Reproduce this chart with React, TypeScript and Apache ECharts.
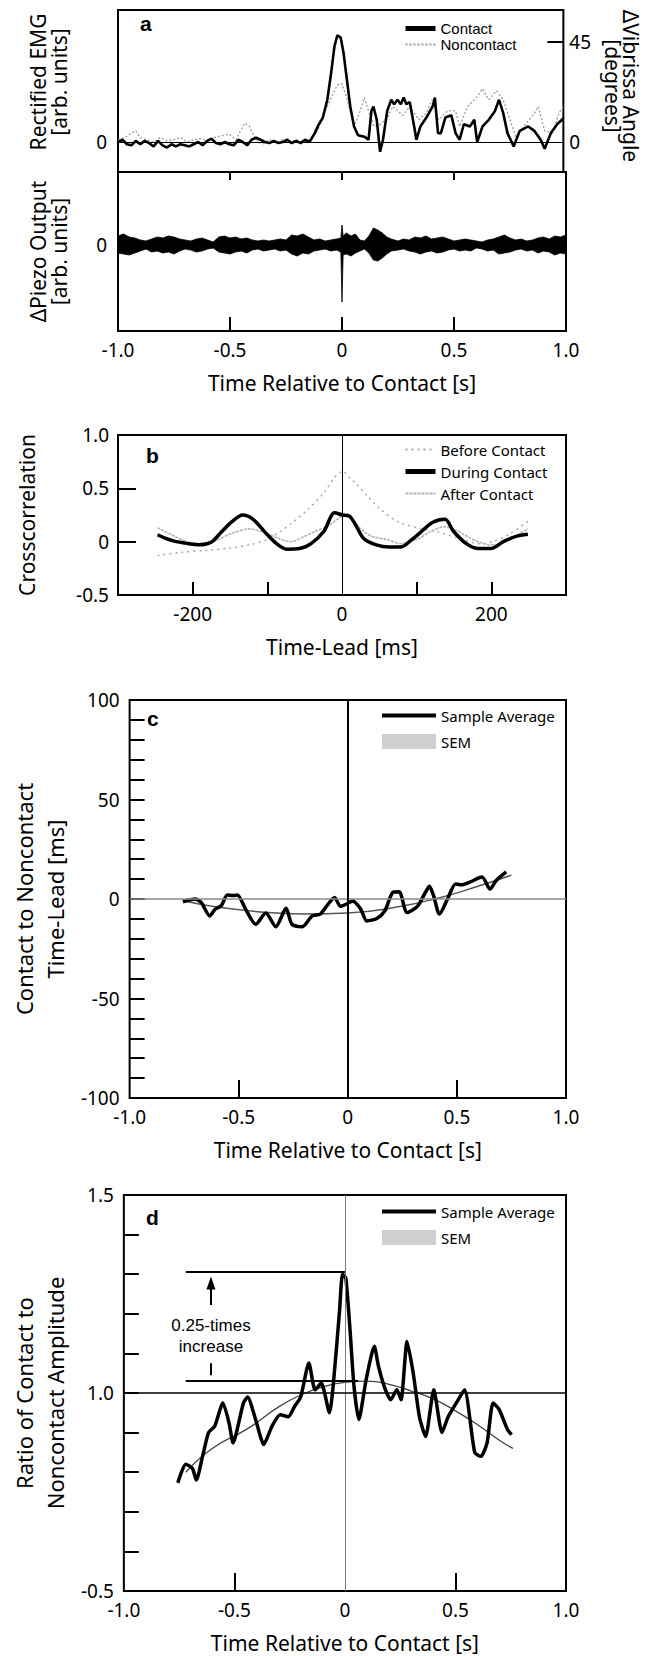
import React, { useEffect, useRef } from "react";
import * as echarts from "echarts";

// ---------- Panel a: EMG (Contact / Noncontact), degrees scale ----------
const emgContact: [number, number][] = [
  [-1.0, 0], [-0.98, 1], [-0.96, -1], [-0.94, -1.5], [-0.92, 0.5], [-0.9, -1], [-0.88, 0.5], [-0.86, -0.5],
  [-0.84, -2], [-0.82, 0.5], [-0.8, -1.5], [-0.78, -2.5], [-0.76, -1], [-0.74, -2], [-0.72, -1], [-0.7, -1.5],
  [-0.68, -2], [-0.66, -1], [-0.64, 0], [-0.62, -1.5], [-0.6, 0.5], [-0.58, 1.5], [-0.56, -0.5], [-0.54, -1],
  [-0.52, 0], [-0.5, -1], [-0.48, -1.5], [-0.46, 1], [-0.44, 0], [-0.42, -1.5], [-0.4, 1], [-0.38, 2],
  [-0.36, 1], [-0.34, 0], [-0.32, -0.5], [-0.3, 0.5], [-0.28, -0.5], [-0.26, 0], [-0.24, 1], [-0.22, -0.5],
  [-0.2, 0.5], [-0.18, -0.5], [-0.16, 1], [-0.14, 0], [-0.117, 3.9], [-0.1, 7.6], [-0.08, 11], [-0.06, 19],
  [-0.043, 31], [-0.028, 43], [-0.015, 48], [0, 47], [0.013, 40], [0.028, 28], [0.043, 16], [0.06, 7],
  [0.078, 3], [0.106, 2.4], [0.125, 1], [0.138, 14], [0.147, 16], [0.162, 10], [0.177, -4.4], [0.19, 1],
  [0.209, 14], [0.227, 19], [0.24, 17], [0.255, 19], [0.27, 17], [0.283, 20], [0.295, 17], [0.31, 18],
  [0.33, 7], [0.34, 1], [0.358, 7], [0.385, 11], [0.413, 16], [0.423, 20], [0.437, 4], [0.45, 4],
  [0.47, 11], [0.497, 12], [0.516, 4], [0.534, 1], [0.553, 8], [0.58, 7], [0.6, 10], [0.613, 0],
  [0.637, 7], [0.665, 10], [0.693, 14], [0.711, 19], [0.73, 13], [0.749, 4], [0.777, -2], [0.804, 5],
  [0.842, 7], [0.87, 5], [0.898, 1], [0.916, -3], [0.944, 4], [0.972, 8], [1.0, 10.6],
];
const emgNoncontact: [number, number][] = [
  [-1.0, 1], [-0.97, 2], [-0.94, 4], [-0.92, 5], [-0.9, 2], [-0.87, 1], [-0.84, 0], [-0.81, 2],
  [-0.78, 0.5], [-0.75, 1], [-0.72, 2], [-0.69, 0], [-0.66, 1], [-0.63, 1.5], [-0.6, 0.5], [-0.57, 2],
  [-0.53, 3], [-0.5, 3.5], [-0.47, 1], [-0.45, 5], [-0.43, 8.5], [-0.41, 7], [-0.39, 3], [-0.37, 0],
  [-0.35, -1], [-0.32, 1], [-0.29, 0], [-0.26, 1], [-0.23, 0], [-0.2, 1], [-0.17, 0], [-0.14, 1],
  [-0.12, 3], [-0.1, 6], [-0.08, 12], [-0.06, 16], [-0.043, 20], [-0.015, 25.6], [0.004, 26.4], [0.03, 19],
  [0.06, 7], [0.088, 14], [0.106, 20], [0.125, 14], [0.15, 7], [0.18, 8], [0.21, 11], [0.235, 16],
  [0.255, 14], [0.28, 12], [0.31, 16], [0.35, 10], [0.385, 13], [0.41, 19], [0.44, 10], [0.48, 14],
  [0.516, 14], [0.534, 7], [0.57, 16], [0.61, 20], [0.637, 24], [0.665, 19], [0.7, 23], [0.73, 19],
  [0.76, 10], [0.786, 2.4], [0.823, 7], [0.87, 13], [0.888, 16], [0.916, 5], [0.953, 4], [0.98, 13], [1.0, 16],
];

// ---------- Panel a: Piezo envelope (arb. units) ----------
const piezoT = [
  -1.0, -0.975, -0.95, -0.925, -0.9, -0.875, -0.85, -0.825, -0.8, -0.775, -0.75, -0.725, -0.7, -0.675, -0.65,
  -0.625, -0.6, -0.575, -0.55, -0.525, -0.5, -0.475, -0.45, -0.425, -0.4, -0.375, -0.35, -0.325, -0.3, -0.275,
  -0.25, -0.225, -0.2, -0.175, -0.15, -0.125, -0.1, -0.075, -0.05, -0.025, -0.005, 0, 0.005, 0.02, 0.04, 0.06,
  0.08, 0.1, 0.12, 0.14, 0.16, 0.18, 0.2, 0.22, 0.25, 0.275, 0.3, 0.325, 0.35, 0.375, 0.4, 0.425, 0.45, 0.475,
  0.5, 0.525, 0.55, 0.575, 0.6, 0.625, 0.65, 0.675, 0.7, 0.725, 0.75, 0.775, 0.8, 0.825, 0.85, 0.875, 0.9,
  0.925, 0.95, 0.975, 1.0,
];
const piezoUpper = [
  9, 11, 8, 7, 5, 4, 6, 8, 7, 9, 8, 6, 5, 4, 6, 7, 5, 3, 8, 9, 7, 8, 6, 7, 5, 4, 5, 4, 5, 6, 5, 10, 9, 11, 8,
  5, 6, 4, 5, 6, 7, 20, 9, 12, 9, 11, 5, 4, 9, 17, 15, 12, 8, 6, 4, 6, 5, 8, 7, 9, 6, 7, 8, 6, 4, 5, 6, 5, 4,
  3, 5, 6, 8, 10, 7, 5, 6, 4, 5, 7, 8, 6, 9, 8, 10,
];
const piezoLower = [
  -8, -9, -10, -8, -6, -4, -7, -6, -8, -7, -9, -6, -4, -5, -7, -6, -4, -3, -7, -8, -9, -7, -6, -8, -5, -4, -6,
  -5, -4, -6, -5, -9, -11, -8, -9, -6, -5, -4, -6, -5, -7, -57, -10, -9, -11, -8, -6, -4, -8, -15, -16, -13,
  -9, -6, -5, -4, -6, -7, -9, -7, -6, -8, -7, -5, -4, -6, -5, -6, -3, -4, -6, -5, -9, -8, -7, -5, -4, -6, -5,
  -8, -6, -7, -10, -8, -9,
];

// ---------- Panel b: crosscorrelation ----------
const bBefore: [number, number][] = [
  [-247, -0.13], [-215, -0.1], [-180, -0.08], [-150, -0.06], [-124, -0.03], [-100, 0.02], [-82, 0.1],
  [-68, 0.17], [-46, 0.3], [-24, 0.46], [-10, 0.6], [1, 0.66], [10, 0.6], [18, 0.55], [35, 0.42], [52, 0.3],
  [74, 0.19], [101, 0.13], [129, 0.09], [157, 0.03], [185, -0.02], [202, 0.0], [224, 0.07], [249, 0.19],
];
const bDuring: [number, number][] = [
  [-247, 0.065], [-236, 0.03], [-225, 0.005], [-208, -0.016], [-191, -0.03], [-174, 0.0], [-163, 0.08],
  [-147, 0.19], [-133, 0.25], [-119, 0.21], [-102, 0.08], [-88, -0.016], [-74, -0.07], [-57, -0.065],
  [-41, -0.016], [-24, 0.1], [-10, 0.27], [1, 0.25], [10, 0.24], [18, 0.16], [29, 0.03], [46, -0.03],
  [63, -0.05], [79, -0.05], [93, 0.016], [104, 0.08], [121, 0.18], [138, 0.21], [149, 0.1], [166, -0.016],
  [183, -0.065], [199, -0.065], [216, 0.0], [233, 0.05], [249, 0.07],
];
const bAfter: [number, number][] = [
  [-247, 0.13], [-230, 0.07], [-208, 0.0], [-185, -0.02], [-166, 0.02], [-147, 0.08], [-124, 0.12],
  [-102, 0.08], [-85, 0.03], [-68, 0.0], [-50, 0.05], [-35, 0.1], [-20, 0.14], [-8, 0.2], [1, 0.24],
  [12, 0.22], [25, 0.12], [40, 0.05], [60, 0.02], [80, -0.02], [100, 0.02], [120, 0.1], [138, 0.14],
  [155, 0.1], [170, 0.04], [190, -0.02], [205, -0.03], [225, 0.03], [249, 0.12],
];

// ---------- Panel c: time-lead ----------
const cAverage: [number, number][] = [
  [-0.756, -1.4], [-0.7, 0], [-0.672, -1.7], [-0.633, -8.5], [-0.607, -5], [-0.58, -3.4], [-0.552, 2],
  [-0.524, 1.7], [-0.506, 2], [-0.469, -5], [-0.422, -12.7], [-0.376, -7], [-0.33, -13.9], [-0.283, -4.7],
  [-0.256, -12.7], [-0.209, -13.9], [-0.163, -8.5], [-0.126, -7.6], [-0.098, -3.7], [-0.061, 0.8],
  [-0.033, -3.7], [-0.006, -2.5], [0.022, -1], [0.059, -5], [0.087, -11], [0.133, -9.8], [0.17, -5.9],
  [0.207, 3.4], [0.235, 3.7], [0.272, -6.8], [0.319, -3.7], [0.356, 3.4], [0.374, 6.4], [0.393, 1.7],
  [0.42, -7.6], [0.457, 0], [0.494, 7.6], [0.52, 7.1], [0.559, 8.5], [0.615, 11], [0.652, 5], [0.68, 9.3],
  [0.726, 13.6],
];
const cFit: [number, number][] = [
  [-0.75, -1], [-0.6, -4], [-0.4, -6.5], [-0.2, -7.5], [0, -7], [0.2, -4.5], [0.4, 0], [0.6, 6.5], [0.75, 12],
];

// ---------- Panel d: amplitude ratio ----------
const dAverage: [number, number][] = [
  [-0.756, 0.773], [-0.72, 0.82], [-0.69, 0.81], [-0.672, 0.78], [-0.644, 0.84], [-0.617, 0.9], [-0.589, 0.916],
  [-0.552, 0.975], [-0.524, 0.924], [-0.506, 0.874], [-0.459, 0.975], [-0.44, 0.99], [-0.404, 0.933],
  [-0.367, 0.87], [-0.33, 0.916], [-0.293, 0.945], [-0.256, 0.94], [-0.228, 0.966], [-0.2, 0.99],
  [-0.163, 1.076], [-0.135, 1.008], [-0.107, 1.025], [-0.07, 0.95], [-0.052, 1.025], [-0.024, 1.21],
  [-0.011, 1.3], [0.004, 1.29], [0.022, 1.168], [0.041, 1.017], [0.063, 0.933], [0.096, 1.034], [0.133, 1.118],
  [0.152, 1.067], [0.18, 1.013], [0.207, 0.983], [0.235, 1.008], [0.254, 0.983], [0.281, 1.13], [0.309, 1.05],
  [0.337, 0.94], [0.365, 0.89], [0.402, 1.008], [0.439, 0.9], [0.467, 0.94], [0.504, 0.975], [0.541, 1.008],
  [0.587, 0.85], [0.615, 0.84], [0.643, 0.874], [0.67, 0.975], [0.698, 0.958], [0.735, 0.908], [0.754, 0.895],
];
const dFit: [number, number][] = [
  [-0.72, 0.8], [-0.6, 0.86], [-0.44, 0.91], [-0.3, 0.965], [-0.2, 0.995], [-0.1, 1.015], [0, 1.027],
  [0.1, 1.03], [0.2, 1.022], [0.3, 1.005], [0.4, 0.985], [0.5, 0.955], [0.6, 0.92], [0.7, 0.88], [0.76, 0.86],
];
const dPeakLevel = 1.305;
const dBaseLevel = 1.03;
const dAnnotX = -0.606;
const dAnnotStart = -0.72;

// ---------- tick / label lists ----------
const timeLabels = [-1, -0.5, 0, 0.5, 1];
const timeTicks = [-0.5, 0.5];
const piezoTicks = [-0.5, 0, 0.5];
const leadLabels = [-200, 0, 200];
const leadTicks = [-200, -100, 100, 200];
const angleLabels = [0, 45];
const cLabels = [-100, -50, 0, 50, 100];
const dLabels = [0.5, 1.0, 1.5];

const NUM_FONT = "Noto Sans";
const ARIAL = "Liberation Sans";
const GRID_L = 118;
const GRID_W = 448;

const labelStyle = { fontFamily: NUM_FONT, fontSize: 19, color: "#000" };
const nameStyle = (size: number, lh: number, extra: any = {}) => ({
  fontFamily: NUM_FONT, fontSize: size, lineHeight: lh, color: "#000", ...extra,
});
const timeFmt = (v: number) => (v === 0 ? "0" : v.toFixed(1));
const tickStyle = { color: "#000", width: 2 };

function buildOption(): any {
  const grids = [
    { left: GRID_L, top: 10, width: GRID_W, height: 162 },
    { left: GRID_L, top: 172, width: GRID_W, height: 159 },
    { left: GRID_L, top: 435, width: GRID_W, height: 160 },
    { left: GRID_L, top: 700, width: GRID_W, height: 398 },
    { left: GRID_L, top: 1195, width: GRID_W, height: 397 },
  ].map((g) => ({ ...g, show: true, borderColor: "#000", borderWidth: 2, backgroundColor: "transparent" }));

  const noSplit = { splitLine: { show: false } };
  const noLine = { axisLine: { show: false, onZero: false } };

  const xTime = (gridIndex: number, ticks: number[], len: number, name: string) => ({
    type: "value", gridIndex, min: -1, max: 1, ...noSplit, ...noLine,
    axisTick: { show: true, inside: true, length: len, customValues: ticks, lineStyle: tickStyle },
    axisLabel: { show: true, customValues: timeLabels, formatter: timeFmt, margin: 9, ...labelStyle },
    name, nameLocation: "middle", nameGap: 40, nameTextStyle: nameStyle(21, 24),
  });

  const xAxis = [
    { type: "value", gridIndex: 0, min: -1, max: 1, show: false, ...noLine },
    xTime(1, piezoTicks, 14, "Time Relative to Contact [s]"),
    {
      type: "value", gridIndex: 1, min: -1, max: 1, position: "top", ...noSplit, ...noLine,
      axisTick: { show: true, inside: true, length: 8, customValues: piezoTicks, lineStyle: tickStyle },
      axisLabel: { show: false },
    },
    {
      type: "value", gridIndex: 2, min: -300, max: 300, ...noSplit, ...noLine,
      axisTick: { show: true, inside: true, length: 13, customValues: leadTicks, lineStyle: tickStyle },
      axisLabel: { show: true, customValues: leadLabels, formatter: (v: number) => String(v), margin: 9, ...labelStyle },
      name: "Time-Lead [ms]", nameLocation: "middle", nameGap: 40, nameTextStyle: nameStyle(21, 24),
    },
    xTime(3, timeTicks, 18, "Time Relative to Contact [s]"),
    xTime(4, timeTicks, 18, "Time Relative to Contact [s]"),
  ];

  const yAxis = [
    {
      type: "value", gridIndex: 0, min: -13.5, max: 59.4, ...noSplit, ...noLine,
      axisTick: { show: false },
      axisLabel: { show: true, customValues: [0], formatter: () => "0", margin: 11, ...labelStyle },
      name: "Rectified EMG\n[arb. units]", nameLocation: "middle", nameRotate: 90, nameGap: 49,
      nameTextStyle: nameStyle(21, 21, { padding: [0, 0, 0, 18] }),
    },
    {
      type: "value", gridIndex: 0, min: -13.5, max: 59.4, position: "right", ...noSplit, ...noLine,
      axisTick: { show: true, inside: true, length: 16, customValues: [45], lineStyle: tickStyle },
      axisLabel: { show: true, customValues: angleLabels, formatter: (v: number) => String(v), margin: 6, ...labelStyle },
      name: "ΔVibrissa Angle\n[degrees]", nameLocation: "middle", nameRotate: -90, nameGap: 39,
      nameTextStyle: nameStyle(21, 18, { padding: [0, 10, 0, 0] }),
    },
    {
      type: "value", gridIndex: 1, min: -86, max: 73, ...noSplit, ...noLine,
      axisTick: { show: false },
      axisLabel: { show: true, customValues: [0], formatter: () => "0", margin: 11, ...labelStyle },
      name: "ΔPiezo Output\n[arb. units]", nameLocation: "middle", nameRotate: 90, nameGap: 49,
      nameTextStyle: nameStyle(21, 21),
    },
    {
      type: "value", gridIndex: 2, min: -0.5, max: 1, interval: 0.5, ...noSplit, ...noLine,
      axisTick: { show: true, inside: true, length: 18, customValues: [0, 0.5], lineStyle: tickStyle },
      axisLabel: { show: true, formatter: (v: number) => (v === 0 ? "0" : v.toFixed(1)), margin: 9, ...labelStyle },
      name: "Crosscorrelation", nameLocation: "middle", nameRotate: 90, nameGap: 79,
      nameTextStyle: nameStyle(21, 24),
    },
    {
      type: "value", gridIndex: 3, min: -100, max: 100, interval: 10, ...noSplit, ...noLine,
      axisTick: { show: true, inside: true, length: 15, lineStyle: tickStyle },
      axisLabel: { show: true, customValues: cLabels, formatter: (v: number) => String(v), margin: 10, ...labelStyle },
      name: "Contact to Noncontact\nTime-Lead [ms]", nameLocation: "middle", nameRotate: 90, nameGap: 45,
      nameTextStyle: nameStyle(22, 31),
    },
    {
      type: "value", gridIndex: 4, min: 0.5, max: 1.5, interval: 0.1, ...noSplit, ...noLine,
      axisTick: { show: true, inside: true, length: 15, lineStyle: tickStyle },
      axisLabel: {
        show: true, customValues: dLabels, margin: 10, ...labelStyle,
        formatter: (v: number) => (v < 0.75 ? "-0.5" : v.toFixed(1)),
      },
      name: "Ratio of Contact to\nNoncontact Amplitude", nameLocation: "middle", nameRotate: 90, nameGap: 45,
      nameTextStyle: nameStyle(22, 31),
    },
  ];

  const ml = (data: any[], color: string, width: number) => ({
    silent: true, symbol: "none", label: { show: false }, animation: false,
    lineStyle: { color, width, type: "solid" }, emphasis: { disabled: true }, data,
  });

  const line = (name: string, data: any, xi: number, yi: number, color: string, width: number, type: any = "solid", extra: any = {}) => ({
    type: "line", name, data, xAxisIndex: xi, yAxisIndex: yi, symbol: "none", showSymbol: false,
    lineStyle: { color, width, type }, itemStyle: { color }, silent: true, emphasis: { disabled: true }, clip: true, ...extra,
  });

  const series: any[] = [
    // Panel a top
    line("Noncontact", emgNoncontact, 0, 0, "#9a9a9a", 1.3, [2, 2]),
    line("Contact", emgContact, 0, 0, "#000", 2.6, "solid", {
      markLine: ml([{ yAxis: 0 }], "#000", 1),
    }),
    // Panel a bottom: piezo envelope
    {
      type: "custom", name: "Piezo", xAxisIndex: 1, yAxisIndex: 2, silent: true, clip: true,
      data: [[0, 0]],
      renderItem: (_p: any, api: any) => {
        const pts: number[][] = [];
        for (let i = 0; i < piezoT.length; i++) pts.push(api.coord([piezoT[i], piezoUpper[i]]));
        for (let i = piezoT.length - 1; i >= 0; i--) pts.push(api.coord([piezoT[i], piezoLower[i]]));
        return { type: "polygon", shape: { points: pts }, style: { fill: "#000", stroke: "#000", lineWidth: 0.8 } };
      },
    },
    // Panel b
    line("Before Contact", bBefore, 3, 3, "#a8a8a8", 1.5, [2, 4], { smooth: 0.3 }),
    line("After Contact", bAfter, 3, 3, "#b4b4b4", 1.6, [3, 1], { smooth: 0.3 }),
    line("During Contact", bDuring, 3, 3, "#000", 3.5, "solid", {
      smooth: 0.3, markLine: ml([{ xAxis: 0 }], "#000", 1),
    }),
    // Panel c
    { type: "custom", name: "SEM", xAxisIndex: 4, yAxisIndex: 4, data: [], itemStyle: { color: "#cfcfcf" }, renderItem: () => null },
    line("c fit", cFit, 4, 4, "#555", 1.5, "solid", { smooth: true, markLine: ml([{ yAxis: 0 }], "#8a8a8a", 1.5) }),
    line("Sample Average", cAverage, 4, 4, "#000", 3.5, "solid", {
      smooth: 0.25, markLine: ml([{ xAxis: 0 }], "#000", 2),
    }),
    // Panel d
    { type: "custom", name: "SEM", xAxisIndex: 5, yAxisIndex: 5, data: [], itemStyle: { color: "#cfcfcf" }, renderItem: () => null },
    line("d fit", dFit, 5, 5, "#444", 1.3, "solid", {
      smooth: true,
      markLine: ml([{ xAxis: 0, lineStyle: { color: "#777", width: 1 } }, { yAxis: 1.0 }], "#000", 1.5),
    }),
    line("Sample Average", dAverage, 5, 5, "#000", 3.5, "solid", {
      smooth: 0.2,
      markLine: {
        silent: true, symbol: "none", label: { show: false }, lineStyle: { color: "#000", width: 2, type: "solid" },
        data: [
          [{ coord: [dAnnotStart, dPeakLevel] }, { coord: [0, dPeakLevel] }],
          [{ coord: [dAnnotStart, dBaseLevel] }, { coord: [0.06, dBaseLevel] }],
          [{ coord: [dAnnotX, 1.222], symbol: "none" }, { coord: [dAnnotX, 1.278], symbol: "triangle", symbolSize: [9, 13] }],
          [{ coord: [dAnnotX, 1.045] }, { coord: [dAnnotX, 1.075] }],
        ],
      },
      markPoint: {
        silent: true, symbol: "circle", symbolSize: 0,
        label: {
          show: true, position: "inside", formatter: "0.25-times\nincrease",
          fontFamily: ARIAL, fontSize: 17, lineHeight: 21, color: "#000",
        },
        data: [{ coord: [dAnnotX, 1.143] }],
      },
    }),
  ];

  const legendBase = {
    orient: "vertical", selectedMode: false, padding: 0,
    itemStyle: { opacity: 0 },
    textStyle: { fontFamily: NUM_FONT, fontSize: 15, color: "#000" },
  };
  const semItem = { name: "SEM", icon: "rect", itemStyle: { opacity: 1, color: "#cfcfcf" } };
  const legend = [
    {
      ...legendBase,
      data: [{ name: "Contact", lineStyle: { width: 5 } }, { name: "Noncontact" }],
      left: 403, top: 21, itemWidth: 30, itemHeight: 14, itemGap: 1,
      textStyle: { fontFamily: ARIAL, fontSize: 15, color: "#000" },
    },
    {
      ...legendBase,
      data: [{ name: "Before Contact" }, { name: "During Contact", lineStyle: { width: 5 } }, { name: "After Contact" }],
      left: 403, top: 442, itemWidth: 30, itemHeight: 14, itemGap: 7,
    },
    { ...legendBase, data: [{ name: "Sample Average", lineStyle: { width: 4 } }, semItem], left: 380, top: 708, itemWidth: 54, itemHeight: 15, itemGap: 11 },
    { ...legendBase, data: [{ name: "Sample Average", lineStyle: { width: 4 } }, semItem], left: 380, top: 1204, itemWidth: 54, itemHeight: 15, itemGap: 11 },
  ];

  const letter = (text: string, left: number, top: number) => ({
    text, left, top, padding: 0,
    textStyle: { fontFamily: ARIAL, fontWeight: "bold", fontSize: 21, color: "#000" },
  });
  const title = [letter("a", 140, 13), letter("b", 146, 445), letter("c", 147, 708), letter("d", 146, 1207)];

  return { animation: false, backgroundColor: "#fff", title, legend, grid: grids, xAxis, yAxis, series };
}

export default function App() {
  const ref = useRef<HTMLDivElement>(null);
  useEffect(() => {
    if (!ref.current) return;
    const chart = echarts.init(ref.current, null, { renderer: "svg" });
    chart.setOption(buildOption());
    return () => chart.dispose();
  }, []);
  return (
    <div
      ref={ref}
      style={{ position: "absolute", left: 0, top: 0, width: 649, height: 1656, background: "#fff" }}
    />
  );
}
